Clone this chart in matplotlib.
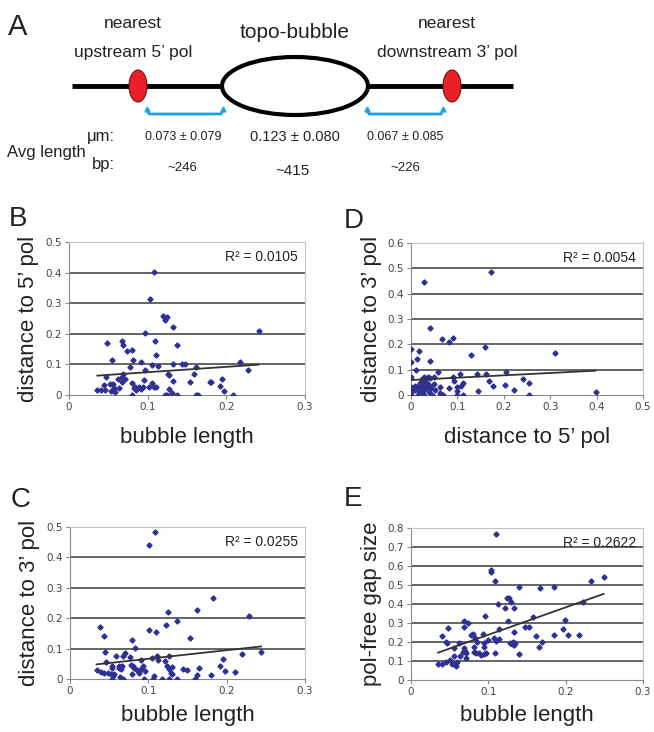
import matplotlib
matplotlib.use("Agg")
import matplotlib.pyplot as plt
from matplotlib.patches import Ellipse
import numpy as np

# Arial-like font for labels, Verdana-like for ticks (Excel look)
LAB = 'Liberation Sans'
TICKF = 'DejaVu Sans'

# ---- panel A text ----
left_title = ["nearest", "upstream 5\u2019 pol"]
mid_title = "topo-bubble"
right_title = ["nearest", "downstream 3\u2019 pol"]
avg_um = ["0.073 \u00b1 0.079", "0.123 \u00b1 0.080", "0.067 \u00b1 0.085"]
avg_bp = ["~246", "~415", "~226"]

# ---- panel B: bubble length vs distance to 5' pol ----
b_x = [0.036, 0.041, 0.046, 0.045, 0.047, 0.048, 0.052, 0.053, 0.055, 0.056,
       0.057, 0.058, 0.062, 0.064, 0.067, 0.068, 0.069, 0.069, 0.071, 0.068,
       0.074, 0.078, 0.080, 0.081, 0.080, 0.080, 0.082, 0.084, 0.085, 0.089,
       0.091, 0.092, 0.094, 0.095, 0.096, 0.097, 0.103, 0.106, 0.106, 0.108,
       0.108, 0.109, 0.111, 0.111, 0.113, 0.102, 0.119, 0.122, 0.125, 0.122,
       0.124, 0.126, 0.127, 0.127, 0.131, 0.132, 0.132, 0.132, 0.137, 0.137,
       0.144, 0.148, 0.154, 0.159, 0.162, 0.161, 0.164, 0.179, 0.181, 0.192,
       0.195, 0.197, 0.209, 0.217, 0.227, 0.241]
b_y = [0.015, 0.015, 0.015, 0.032, 0.060, 0.170, 0.036, 0.012, 0.113, 0.036,
       0.022, 0.010, 0.053, 0.022, 0.060, 0.177, 0.164, 0.069, 0.053, 0.043,
       0.144, 0.093, 0.146, 0.113, 0.038, 0.000, 0.022, 0.027, 0.016, 0.027,
       0.109, 0.020, 0.027, 0.049, 0.203, 0.082, 0.313, 0.097, 0.038, 0.401,
       0.027, 0.175, 0.132, 0.027, 0.096, 0.027, 0.258, 0.246, 0.256, 0.000,
       0.000, 0.069, 0.066, 0.019, 0.008, 0.221, 0.101, 0.047, 0.162, 0.000,
       0.102, 0.101, 0.043, 0.069, 0.091, 0.000, 0.000, 0.041, 0.043, 0.030,
       0.053, 0.013, 0.000, 0.109, 0.082, 0.209]
b_fit = (0.175, 0.057)   # slope, intercept
b_r2 = "0.0105"

# ---- panel D: distance to 5' pol vs distance to 3' pol ----
d_x = [0.000, 0.000, 0.000, 0.000, 0.000, 0.000, 0.000, 0.008, 0.008, 0.011,
       0.013, 0.014, 0.015, 0.016, 0.018, 0.019, 0.020, 0.021, 0.024, 0.024,
       0.026, 0.027, 0.027, 0.028, 0.029, 0.027, 0.033, 0.034, 0.037, 0.038,
       0.039, 0.042, 0.042, 0.042, 0.044, 0.046, 0.049, 0.050, 0.052, 0.059,
       0.062, 0.062, 0.067, 0.065, 0.069, 0.081, 0.082, 0.090, 0.090, 0.093,
       0.099, 0.100, 0.099, 0.106, 0.108, 0.112, 0.112, 0.130, 0.142, 0.145,
       0.173, 0.160, 0.162, 0.169, 0.176, 0.203, 0.204, 0.221, 0.242, 0.254,
       0.254, 0.310, 0.398]
d_y = [0.182, 0.129, 0.073, 0.033, 0.022, 0.011, 0.000, 0.037, 0.020, 0.099,
       0.141, 0.033, 0.020, 0.000, 0.172, 0.049, 0.022, 0.033, 0.013, 0.063,
       0.046, 0.445, 0.073, 0.033, 0.020, 0.000, 0.053, 0.033, 0.073, 0.040,
       0.013, 0.266, 0.135, 0.066, 0.026, 0.000, 0.073, 0.044, 0.020, 0.090,
       0.033, 0.007, 0.222, 0.000, 0.000, 0.208, 0.026, 0.224, 0.073, 0.057,
       0.033, 0.016, 0.000, 0.083, 0.037, 0.046, 0.000, 0.156, 0.083, 0.017,
       0.486, 0.191, 0.082, 0.057, 0.036, 0.040, 0.090, 0.020, 0.062, 0.046,
       0.000, 0.165, 0.011]
d_fit = (0.093, 0.059)
d_r2 = "0.0054"

# ---- panel C: bubble length vs distance to 3' pol ----
c_x = [0.034, 0.038, 0.039, 0.043, 0.044, 0.045, 0.046, 0.049, 0.052, 0.053,
       0.054, 0.054, 0.055, 0.056, 0.059, 0.062, 0.063, 0.064, 0.065, 0.067,
       0.068, 0.068, 0.070, 0.076, 0.078, 0.079, 0.079, 0.080, 0.082, 0.083,
       0.085, 0.088, 0.091, 0.091, 0.093, 0.095, 0.096, 0.101, 0.101, 0.105,
       0.106, 0.107, 0.109, 0.110, 0.111, 0.112, 0.118, 0.121, 0.123, 0.124,
       0.125, 0.126, 0.126, 0.127, 0.129, 0.130, 0.130, 0.136, 0.136, 0.144,
       0.149, 0.153, 0.159, 0.162, 0.162, 0.165, 0.180, 0.182, 0.192, 0.195,
       0.198, 0.211, 0.219, 0.229, 0.244]
c_y = [0.031, 0.171, 0.024, 0.020, 0.140, 0.088, 0.055, 0.020, 0.018, 0.000,
       0.044, 0.036, 0.011, 0.015, 0.077, 0.036, 0.042, 0.007, 0.033, 0.042,
       0.077, 0.000, 0.086, 0.072, 0.045, 0.127, 0.018, 0.042, 0.036, 0.101,
       0.029, 0.020, 0.033, 0.061, 0.042, 0.000, 0.025, 0.442, 0.162, 0.070,
       0.000, 0.011, 0.485, 0.154, 0.075, 0.061, 0.000, 0.059, 0.179, 0.042,
       0.221, 0.075, 0.000, 0.033, 0.020, 0.039, 0.016, 0.191, 0.000, 0.033,
       0.029, 0.135, 0.000, 0.014, 0.227, 0.035, 0.014, 0.265, 0.044, 0.066,
       0.025, 0.022, 0.083, 0.208, 0.089]
c_fit = (0.281, 0.0385)
c_r2 = "0.0255"

# ---- panel E: bubble length vs pol-free gap size ----
e_x = [0.035, 0.040, 0.040, 0.045, 0.045, 0.047, 0.048, 0.051, 0.053, 0.055,
       0.056, 0.057, 0.058, 0.059, 0.062, 0.064, 0.067, 0.068, 0.068, 0.069,
       0.070, 0.071, 0.071, 0.074, 0.077, 0.080, 0.081, 0.082, 0.083, 0.084,
       0.085, 0.088, 0.090, 0.093, 0.094, 0.094, 0.095, 0.096, 0.097, 0.099,
       0.103, 0.104, 0.107, 0.108, 0.109, 0.110, 0.110, 0.113, 0.114, 0.114,
       0.122, 0.124, 0.125, 0.127, 0.129, 0.128, 0.130, 0.132, 0.133, 0.133,
       0.133, 0.135, 0.140, 0.140, 0.148, 0.152, 0.158, 0.162, 0.165, 0.167,
       0.169, 0.185, 0.185, 0.197, 0.199, 0.203, 0.217, 0.223, 0.233, 0.249]
e_y = [0.083, 0.083, 0.232, 0.097, 0.202, 0.193, 0.272, 0.105, 0.084, 0.167,
       0.128, 0.084, 0.076, 0.093, 0.193, 0.127, 0.149, 0.281, 0.167, 0.313,
       0.155, 0.114, 0.144, 0.302, 0.237, 0.243, 0.172, 0.149, 0.220, 0.144,
       0.202, 0.141, 0.134, 0.243, 0.135, 0.176, 0.193, 0.337, 0.144, 0.211,
       0.580, 0.571, 0.220, 0.141, 0.522, 0.770, 0.207, 0.401, 0.269, 0.216,
       0.378, 0.431, 0.308, 0.431, 0.413, 0.197, 0.188, 0.199, 0.378, 0.251,
       0.185, 0.197, 0.492, 0.137, 0.278, 0.278, 0.334, 0.232, 0.176, 0.483,
       0.200, 0.236, 0.492, 0.269, 0.316, 0.237, 0.237, 0.413, 0.522, 0.541]
e_fit = (1.444, 0.0935)
e_r2 = "0.2622"

W, H = 654, 732
fig = plt.figure(figsize=(W / 100, H / 100), dpi=100)
fig.patch.set_facecolor('white')

def ftext(x, y, s, **kw):
    # x, y in pixels from the top-left corner
    fig.text(x / W, 1 - y / H, s, **kw)

MARK = '#2E3192'
INK = '#222222'

def scatter_panel(box, xs, ys, fit, r2, xmax, ymax, xlabel, ylabel, letter, letter_xy, xlab_dy):
    x0, y0, x1, y1 = box
    ax = fig.add_axes([x0 / W, 1 - y1 / H, (x1 - x0) / W, (y1 - y0) / H])
    yt = np.round(np.arange(0, ymax + 1e-9, 0.1), 1)
    xt = np.round(np.arange(0, xmax + 1e-9, 0.1), 1)
    for t in yt[1:-1]:
        ax.axhline(t, color='#3a3a3a', lw=1.1, zorder=1)
    ax.plot(xs, ys, ls='none', marker='D', ms=2.6, color=MARK, zorder=3)
    xl = np.array([min(xs), max(xs)])
    ax.plot(xl, fit[0] * xl + fit[1], color='#333333', lw=1.3, zorder=4)
    ax.set_xlim(0, xmax)
    ax.set_ylim(0, ymax)
    ax.set_xticks(xt)
    ax.set_yticks(yt)
    ax.set_xticklabels([f"{t:g}" for t in xt], fontsize=7.5, family=TICKF, color='#444444')
    ax.set_yticklabels([f"{t:g}" for t in yt], fontsize=7.5, family=TICKF, color='#444444')
    ax.tick_params(direction='out', length=3, color='#888888', pad=2)
    for s in ['left', 'bottom']:
        ax.spines[s].set_color('#8a8a8a')
    for s in ['top', 'right']:
        ax.spines[s].set_color('#c4c4c4')
    ax.text(0.97, 0.9, "R\u00b2 = " + r2, transform=ax.transAxes, ha='right', va='center',
            fontsize=10, family=LAB, color=INK)
    ftext((x0 + x1) / 2, y1 + xlab_dy, xlabel, ha='center', va='center', fontsize=16, family=LAB, color=INK)
    ftext(x0 - 40, (y0 + y1) / 2, ylabel, ha='center', va='center', rotation=90, fontsize=16,
          family=LAB, color=INK)
    ftext(letter_xy[0], letter_xy[1], letter, ha='center', va='center', fontsize=20, family=LAB, color=INK)
    return ax

scatter_panel((69, 242, 305, 395), b_x, b_y, b_fit, b_r2, 0.3, 0.5,
              "bubble length", "distance to 5\u2019 pol", "B", (18, 219), 42)
scatter_panel((411, 243, 643, 395), d_x, d_y, d_fit, d_r2, 0.5, 0.6,
              "distance to 5\u2019 pol", "distance to 3\u2019 pol", "D", (354, 221), 42)
scatter_panel((70, 527, 305, 679), c_x, c_y, c_fit, c_r2, 0.3, 0.5,
              "bubble length", "distance to 3\u2019 pol", "C", (21, 500), 37)
scatter_panel((411, 528, 643, 680), e_x, e_y, e_fit, e_r2, 0.3, 0.8,
              "bubble length", "pol-free gap size", "E", (353, 499), 36)

# ---- panel A: diagram drawn in pixel coordinates ----
axa = fig.add_axes([0, 1 - 190 / H, 1, 190 / H])
axa.set_xlim(0, W)
axa.set_ylim(190, 0)
axa.axis('off')
axa.plot([72, 513], [86, 86], color='black', lw=3.5, solid_capstyle='butt', zorder=1)
axa.add_patch(Ellipse((295, 86), 146, 58, facecolor='white', edgecolor='black', lw=3, zorder=2))
for cx in (138, 452):
    axa.add_patch(Ellipse((cx, 86), 18, 32, facecolor='#e8202a', edgecolor='#7a1010', lw=0.8, zorder=3))
BLUE = '#1aa3e8'
for xa, xb in ((147, 223), (367, 443)):
    axa.plot([xa, xa + 2, xb - 2, xb], [110, 114, 114, 110], color=BLUE, lw=2, zorder=2)
    axa.plot([xa, xb], [109, 109], ls='none', marker='^', ms=3.5, color=BLUE, zorder=2)

kwA = dict(family=LAB, color=INK, ha='center', va='center')
axa.text(133, 23, left_title[0], fontsize=12.5, **kwA)
axa.text(133, 53, left_title[1], fontsize=12.5, **kwA)
axa.text(447, 23, right_title[0], fontsize=12.5, **kwA)
axa.text(447, 53, right_title[1], fontsize=12.5, **kwA)
axa.text(295, 32, mid_title, fontsize=15, **kwA)
axa.text(18, 27, "A", fontsize=21, **kwA)
axa.text(7, 152, "Avg length", fontsize=12, family=LAB, color=INK, ha='left', va='center')
axa.text(115, 137, "\u03bcm:", fontsize=12, family=LAB, color=INK, ha='right', va='center')
axa.text(115, 165, "bp:", fontsize=12, family=LAB, color=INK, ha='right', va='center')
for cx, s, fs in zip((183, 295, 405), avg_um, (9, 10.5, 9)):
    axa.text(cx, 137, s, fontsize=fs, **kwA)
for cx, s, fs, cy in zip((182, 293, 405), avg_bp, (9.5, 11, 9.5), (168, 171, 168)):
    axa.text(cx, cy, s, fontsize=fs, **kwA)

fig.savefig("out.png", dpi=100, facecolor='white')
